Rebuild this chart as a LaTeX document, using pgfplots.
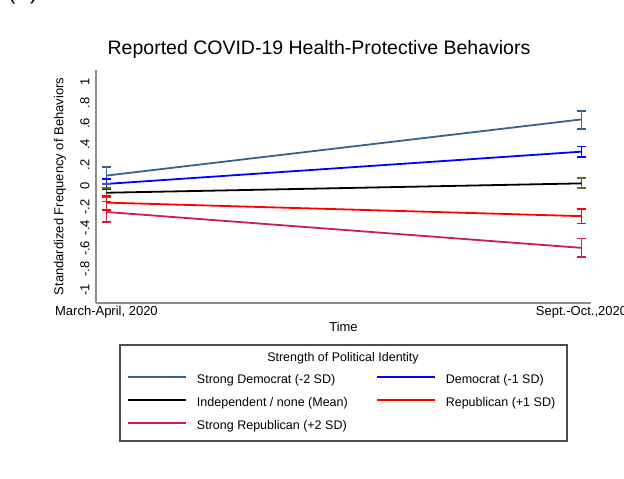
\documentclass[border=0pt]{standalone}
\usepackage{pgfplots}
\pgfplotsset{compat=1.18}
\usepackage{fontspec}
\setmainfont{Liberation Sans}

\definecolor{sdem}{HTML}{37628A}
\definecolor{dem}{HTML}{0000FF}
\definecolor{rep}{HTML}{FF0000}
\definecolor{srep}{HTML}{C81E50}
\definecolor{cigreen}{HTML}{55702F}
\definecolor{axgray}{HTML}{8C8C8C}

% a confidence interval: vertical line with horizontal caps at both ends
\pgfplotsset{ci/.style={color=#1, line width=1.8pt, mark=-, mark size=4.5pt,
    mark options={solid, line width=1.8pt}, forget plot}}

\begin{document}
\begin{tikzpicture}
\useasboundingbox (-96pt,-176pt) rectangle (528pt,303pt);
\begin{axis}[
    scale only axis,
    width=495pt, height=233pt,
    xmin=-0.022, xmax=1.02,
    ymin=-1.125, ymax=1.115,
    axis lines*=left,
    axis line style={-, draw=axgray, line width=1.2pt},
    major tick length=0pt,
    xtick={0,1},
    xticklabels={{March-April, 2020},{Sept.-Oct.,2020}},
    ytick={-1,-0.8,-0.6,-0.4,-0.2,0,0.2,0.4,0.6,0.8,1},
    yticklabels={-1,-.8,-.6,-.4,-.2,0,.2,.4,.6,.8,1},
    tick label style={font=\fontsize{13}{15}\selectfont},
    yticklabel style={rotate=90, anchor=south},
    yticklabel shift=3pt,
    title={Reported COVID-19 Health-Protective Behaviors},
    title style={font=\fontsize{19.5}{23}\selectfont, at={(0.4505,1.064)}, anchor=center},
    xlabel={Time},
    xlabel style={font=\fontsize{13}{15}\selectfont, at={(axis description cs:0.5,-0.103)}, anchor=center},
    ylabel={Standardized Frequency of Behaviors},
    ylabel style={font=\fontsize{13}{15}\selectfont, at={(axis description cs:-0.0727,0.5)}, anchor=center},
    legend columns=2,
    legend style={draw=none, fill=none, inner sep=0pt, row sep=11pt, column sep=0pt,
        at={(0.0626,-0.307)}, anchor=north west,
        nodes={inner sep=0pt, text height=9pt, text depth=3pt, font=\fontsize{12.5}{15}\selectfont}},
    legend cell align=left,
    legend image code/.code={\draw[#1] (0pt,4pt) -- (58pt,4pt); \path (68pt,4pt);},
]
% confidence intervals (low, high) at both waves
\addplot[ci=sdem]    coordinates {(0,0.02) (0,0.18)};
\addplot[ci=sdem]    coordinates {(1,0.55) (1,0.72)};
\addplot[ci=dem]     coordinates {(0,-0.03) (0,0.07)};
\addplot[ci=dem]     coordinates {(1,0.28) (1,0.38)};
\addplot[ci=cigreen] coordinates {(0,-0.11) (0,-0.02)};
\addplot[ci=cigreen] coordinates {(1,-0.023) (1,0.073)};
\addplot[ci=rep]     coordinates {(0,-0.23) (0,-0.10)};
\addplot[ci=rep]     coordinates {(1,-0.36) (1,-0.22)};
\addplot[ci=srep]    coordinates {(0,-0.35) (0,-0.15)};
\addplot[ci=srep]    coordinates {(1,-0.68) (1,-0.505)};
% predicted means
\addplot[color=sdem, line width=1.8pt] coordinates {(0,0.10) (1,0.64)};
\addlegendentry{\makebox[179pt][l]{Strong Democrat (-2 SD)}}
\addplot[color=dem, line width=1.8pt] coordinates {(0,0.02) (1,0.33)};
\addlegendentry{Democrat (-1 SD)}
\addplot[color=black, line width=1.8pt] coordinates {(0,-0.065) (1,0.025)};
\addlegendentry{\makebox[179pt][l]{Independent / none (Mean)}}
\addplot[color=rep, line width=1.8pt] coordinates {(0,-0.16) (1,-0.29)};
\addlegendentry{Republican (+1 SD)}
\addplot[color=srep, line width=1.8pt] coordinates {(0,-0.25) (1,-0.595)};
\addlegendentry{\makebox[179pt][l]{Strong Republican (+2 SD)}}
\end{axis}
% legend frame and legend title
\draw[gray!60!black, line width=1.4pt] (24pt,-42pt) rectangle (471pt,-138pt);
\node[font=\fontsize{12.5}{15}\selectfont] at (247pt,-55pt) {Strength of Political Identity};
% cut-off panel letter at the top edge
\node[anchor=base west, inner sep=0pt, font=\fontsize{22}{26}\selectfont] at (-88pt,303.5pt) {(A)};
\end{tikzpicture}
\end{document}
